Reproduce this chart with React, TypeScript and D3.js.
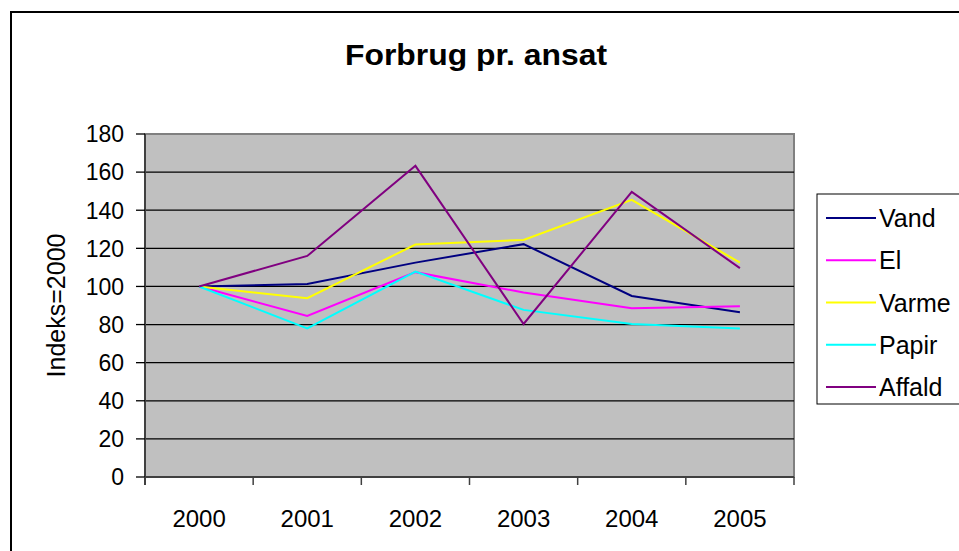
import React from "react";
import { scaleBand, scaleLinear, scalePoint, line, range } from "d3";

const years = ["2000", "2001", "2002", "2003", "2004", "2005"];
const vand = [100, 101.3, 112.5, 122.2, 95, 86.5];
const el = [100, 84.5, 107.5, 96.8, 88.5, 89.6];
const varme = [100, 93.8, 122, 124.4, 145.4, 112.5];
const papir = [100, 78, 107.8, 87.7, 80.3, 77.9];
const affald = [100, 116, 163.3, 80.3, 149.6, 109.6];
const yTicks = range(0, 181, 20);

const series = [
  { name: "Vand", values: vand, color: "#000080" },
  { name: "El", values: el, color: "#FF00FF" },
  { name: "Varme", values: varme, color: "#FFFF00" },
  { name: "Papir", values: papir, color: "#00FFFF" },
  { name: "Affald", values: affald, color: "#800080" },
];

const font = "'Liberation Sans', Arial, sans-serif";

export default function App() {
  const left = 145;
  const right = 794;
  const top = 134;
  const bottom = 477;

  const x = scaleBand().domain(years).range([left, right]);
  const y = scaleLinear().domain([0, 180]).range([bottom, top]);
  const legendY = scalePoint()
    .domain(series.map((s) => s.name))
    .range([218, 387]);

  const path = line<number>()
    .x((_, i) => x(years[i])! + x.bandwidth() / 2)
    .y((d) => y(d));

  return (
    <svg
      width={959}
      height={551}
      style={{ position: "absolute", left: 0, top: 0 }}
    >
      <rect x={0} y={0} width={959} height={551} fill="#fff" />
      <rect
        x={11}
        y={12}
        width={960}
        height={560}
        fill="none"
        stroke="#000"
        strokeWidth={2}
      />
      <text
        x={476}
        y={65}
        textAnchor="middle"
        fontFamily={font}
        fontWeight="bold"
        fontSize={30}
        textLength={262}
        lengthAdjust="spacingAndGlyphs"
      >
        Forbrug pr. ansat
      </text>

      {/* plot area */}
      <rect
        x={left}
        y={top}
        width={right - left}
        height={bottom - top}
        fill="#C0C0C0"
        stroke="#808080"
        strokeWidth={2}
      />
      {yTicks
        .filter((t) => t > 0 && t < 180)
        .map((t) => (
          <line
            key={t}
            x1={left}
            x2={right}
            y1={y(t)}
            y2={y(t)}
            stroke="#000"
            strokeWidth={1.3}
          />
        ))}

      {/* y axis */}
      <line x1={left} x2={left} y1={top} y2={bottom + 8} stroke="#404040" strokeWidth={2} />
      {yTicks.map((t) => (
        <g key={t}>
          <line x1={left - 9} x2={left} y1={y(t)} y2={y(t)} stroke="#000" strokeWidth={1.3} />
          <text
            x={left - 21}
            y={y(t)}
            dy="0.36em"
            textAnchor="end"
            fontFamily={font}
            fontSize={23}
          >
            {t}
          </text>
        </g>
      ))}
      <text
        transform={`translate(65,${(top + bottom) / 2}) rotate(-90)`}
        textAnchor="middle"
        fontFamily={font}
        fontSize={25}
      >
        Indeks=2000
      </text>

      {/* x axis */}
      <line x1={left} x2={right} y1={bottom} y2={bottom} stroke="#404040" strokeWidth={2} />
      {years.map((yr) => (
        <line
          key={"t" + yr}
          x1={x(yr)!}
          x2={x(yr)!}
          y1={bottom}
          y2={bottom + 8}
          stroke="#404040"
          strokeWidth={1.5}
        />
      ))}
      <line x1={right} x2={right} y1={bottom} y2={bottom + 8} stroke="#404040" strokeWidth={1.5} />
      {years.map((yr) => (
        <text
          key={yr}
          x={x(yr)! + x.bandwidth() / 2}
          y={527}
          textAnchor="middle"
          fontFamily={font}
          fontSize={24}
        >
          {yr}
        </text>
      ))}

      {/* lines */}
      {series.map((s) => (
        <path
          key={s.name}
          d={path(s.values)!}
          fill="none"
          stroke={s.color}
          strokeWidth={2}
        />
      ))}

      {/* legend */}
      <rect x={817} y={194} width={150} height={210} fill="#fff" stroke="#000" strokeWidth={1} />
      {series.map((s) => (
        <g key={s.name}>
          <line
            x1={826}
            x2={876}
            y1={legendY(s.name)!}
            y2={legendY(s.name)!}
            stroke={s.color}
            strokeWidth={2}
          />
          <text
            x={879}
            y={legendY(s.name)!}
            dy="0.36em"
            fontFamily={font}
            fontSize={25}
          >
            {s.name}
          </text>
        </g>
      ))}
    </svg>
  );
}
